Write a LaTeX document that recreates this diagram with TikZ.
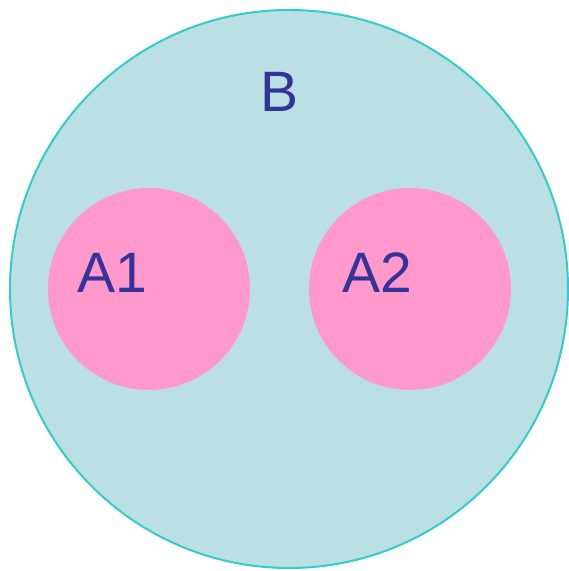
\documentclass[tikz,border=0pt]{standalone}
\usepackage{fontspec}
\setmainfont{Liberation Sans}
\definecolor{bfill}{HTML}{BAE0E3}
\definecolor{bline}{HTML}{33CCCC}
\definecolor{pinkf}{HTML}{FF99CC}
\definecolor{txtc}{HTML}{333399}
\begin{document}
\begin{tikzpicture}[x=1pt,y=1pt,
  lbl/.style={text=txtc,font=\fontsize{57}{57}\selectfont,inner sep=0pt,anchor=base}]
\useasboundingbox (0,0) rectangle (569,571);
\fill[bfill,draw=bline,line width=2pt] (289,282) circle (279);
\fill[pinkf] (149,282) circle (101);
\fill[pinkf] (410,282) circle (101);
\node[lbl] (B) at (280,459) {B};
\node[lbl] (A1) at (112,278) {A1};
\node[lbl] (A2) at (377,278) {A2};
\end{tikzpicture}
\end{document}
